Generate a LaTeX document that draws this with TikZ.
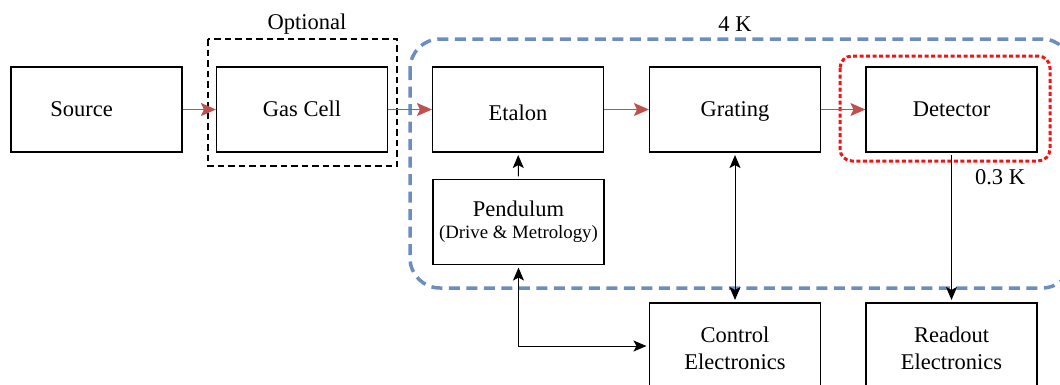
\documentclass[tikz,border=0pt]{standalone}
\usepackage{fontspec}
\setmainfont{Liberation Serif}
\usetikzlibrary{arrows.meta}
\definecolor{beamred}{RGB}{192,80,77}
\definecolor{coldblue}{RGB}{108,142,191}
\definecolor{subkred}{RGB}{240,20,20}

\begin{document}
\begin{tikzpicture}[x=1pt, y=-1pt,
  >={Stealth[length=13pt, width=11pt, inset=3pt]},
  block/.style={rectangle, draw, line width=1.1pt, minimum width=171pt, minimum height=85pt, inner sep=0pt, align=center, font=\fontsize{22.5}{27}\selectfont},
  rowblock/.style={block, text height=15pt, text depth=1pt},
  tag/.style={inner sep=0pt, font=\fontsize{22.5}{27}\selectfont},
  beam/.style={-{Stealth[length=15pt, width=13pt, inset=3pt]}, draw=beamred, fill=beamred, line width=1.2pt},
  link/.style={line width=1pt, shorten >=2.5pt, shorten <=2.5pt}]
  \useasboundingbox (0,0) rectangle (1060,384);

  \node[rowblock] (source)  at (96.5, 109.5) {Source\hspace{30pt}};
  \node[rowblock] (gascell) at (302, 109.5) {Gas Cell};
  \node[rowblock, text height=21pt, text depth=0pt] (etalon) at (518, 109.5) {Etalon};
  \node[rowblock] (grating) at (735, 109.5) {Grating};
  \node[rowblock] (detector) at (951.5, 109.5) {Detector};
  \node[block] (pendulum) at (518.5, 222) {Pendulum\\[-5pt]{\fontsize{18.8}{22}\selectfont (Drive \& Metrology)}};
  \node[block, minimum height=90pt] (control) at (735, 348) {Control\\Electronics};
  \node[block, minimum height=90pt] (readout) at (951.5, 348) {Readout\\Electronics};

  \draw[line width=2.8pt, dash pattern=on 6.5pt off 4pt] (208, 39) rectangle (397, 166);
  \draw[coldblue, line width=3.5pt, dash pattern=on 11pt off 6.5pt, rounded corners=30pt] (410, 39) rectangle (1072, 288);
  \draw[subkred, line width=3pt, dash pattern=on 4pt off 2.5pt, rounded corners=12pt] (840, 56) rectangle (1050, 161);

  \node[tag] (optional) at (307, 24) {Optional};
  \node[tag] (fourk) at (735, 24) {4 K};
  \node[tag] (subk) at (1000, 177) {0.3 K};

  \draw[beam] (source) -- (gascell);
  \draw[beam] (gascell) -- (etalon);
  \draw[beam] (etalon) -- (grating);
  \draw[beam] (grating) -- (detector);

  \draw[link, ->] (pendulum) -- (etalon);
  \draw[link, <->] (grating) -- (control);
  \draw[link, ->] (detector) -- (readout);
  \draw[link, <->] (pendulum) |- (control.west |- 0,346);
\end{tikzpicture}
\end{document}
